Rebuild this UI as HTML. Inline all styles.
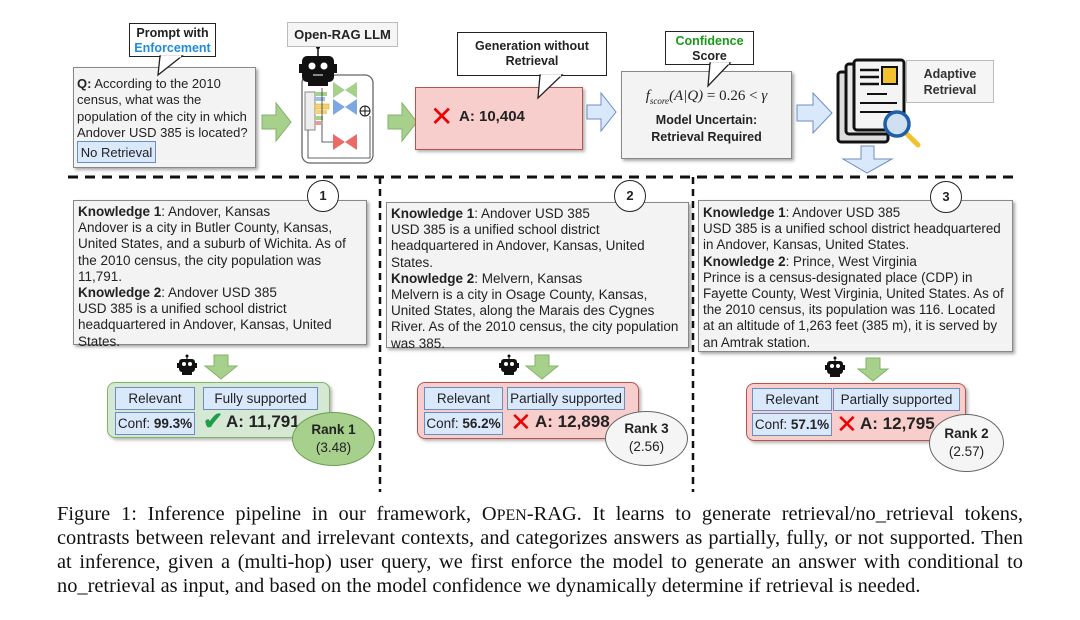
<!DOCTYPE html>
<html><head><meta charset="utf-8"><style>
*{margin:0;padding:0;box-sizing:border-box}
body{width:1080px;height:620px;background:#fff;position:relative;overflow:hidden;font-family:"Liberation Sans",sans-serif;color:#222}
.a{position:absolute}
.box{position:absolute;background:#f3f3f3;border:1.5px solid #888;box-shadow:2px 2px 3px rgba(0,0,0,.35)}
.call{position:absolute;background:#fff;border:1.5px solid #222;text-align:center;font-weight:bold;font-size:12.5px;line-height:15px;padding-top:2px}
.kt{font-size:13.5px;line-height:16.2px;white-space:nowrap;padding:3px 0 0 4px}
.tag{position:absolute;background:#dae8fc;border:1.3px solid #6c8ebf;font-size:13.5px;text-align:center;line-height:21px;height:23px;white-space:nowrap}
.res{position:absolute;border-radius:8px;box-shadow:2px 2px 3px rgba(0,0,0,.3)}
.ell{position:absolute;border-radius:50%;border:1.3px solid #666;text-align:center;font-size:13.5px;line-height:18px}
.circ{position:absolute;width:32px;height:32px;border-radius:50%;border:1.5px solid #222;background:#fff;text-align:center;line-height:29px;font-weight:bold;font-size:13px}
.cap{position:absolute;left:57px;width:966px;font-family:"Liberation Serif",serif;font-size:20.4px;text-align:justify;text-align-last:justify;white-space:nowrap;color:#111}
</style></head><body>

<svg class="a" style="left:0;top:0" width="1080" height="620">
<line x1="68" y1="177" x2="1020" y2="177" stroke="#111" stroke-width="3" stroke-dasharray="10,7"/>
<line x1="380" y1="177" x2="380" y2="492" stroke="#111" stroke-width="2.5" stroke-dasharray="7,5"/>
<line x1="693" y1="177" x2="693" y2="492" stroke="#111" stroke-width="2.5" stroke-dasharray="7,5"/>
<polygon points="262,115 276,115 276,103 291,122 276,141 276,129 262,129" fill="#a8d08d" stroke="#82b366"/>
<polygon points="388,115 402,115 402,103 417,122 402,141 402,129 388,129" fill="#a8d08d" stroke="#82b366"/>
<polygon points="587,105 601,105 601,93 616,112 601,131 601,119 587,119" fill="#dae8fc" stroke="#6c8ebf"/>
<polygon points="797,105 813,105 813,93 832,113 813,133 813,121 797,121" fill="#dae8fc" stroke="#6c8ebf"/>
<polygon points="861,146 874,146 874,159 892,159 867,173 843,159 861,159" fill="#dae8fc" stroke="#6c8ebf"/>
<polygon points="214,355 228,355 228,366 237,366 221,379 205,366 214,366" fill="#a8d08d" stroke="#82b366"/>
<polygon points="535,355 549,355 549,366 558,366 542,379 526,366 535,366" fill="#a8d08d" stroke="#82b366"/>
<polygon points="866,358 880,358 880,369 888,369 873,381 858,369 866,369" fill="#a8d08d" stroke="#82b366"/>
<rect x="302" y="75" width="71" height="88" rx="8" fill="#fff" stroke="#666" stroke-width="1.3"/>
<rect x="305" y="92" width="10" height="38" fill="#eee" stroke="#888"/>
<rect x="315" y="92" width="12" height="4" fill="#a8d08d"/><rect x="315" y="97" width="10" height="4" fill="#9cc0e8"/>
<rect x="315" y="104" width="14" height="5" fill="#f5d27a" stroke="#d6a000" stroke-width=".5"/><rect x="315" y="110" width="12" height="4" fill="#f5d27a"/>
<rect x="315" y="116" width="8" height="4" fill="#a8d08d"/><rect x="315" y="121" width="6" height="4" fill="#ea9999"/>
<polygon points="333,82 345,90 333,98" fill="#a8d08d"/><polygon points="357,82 345,90 357,98" fill="#a8d08d"/>
<polygon points="333,99 345,107 333,115" fill="#7ea6e0"/><polygon points="357,99 345,107 357,115" fill="#7ea6e0"/>
<polygon points="333,134 345,142 333,150" fill="#ea6b66"/><polygon points="357,134 345,142 357,150" fill="#ea6b66"/>
<circle cx="365" cy="111" r="5" fill="#fff" stroke="#111"/><line x1="360" y1="111" x2="370" y2="111" stroke="#111"/><line x1="365" y1="106" x2="365" y2="116" stroke="#111"/>
<polyline points="322,88 322,142 333,142" fill="none" stroke="#333" stroke-width=".8"/>
<polyline points="308,130 308,158 370,158 370,116" fill="none" stroke="#333" stroke-width=".8"/>
<g><line x1="318" y1="48" x2="318" y2="56" stroke="#111" stroke-width="1.5"/><circle cx="318" cy="47" r="2" fill="#111"/>
<rect x="302" y="56" width="32" height="26" rx="5" fill="#111"/><rect x="299" y="64" width="3" height="9" fill="#111"/><rect x="334" y="64" width="3" height="9" fill="#111"/>
<circle cx="312" cy="66" r="3.5" fill="#fff"/><circle cx="324" cy="66" r="3.5" fill="#fff"/><line x1="313" y1="75" x2="323" y2="75" stroke="#fff"/>
<rect x="308" y="82" width="20" height="4" fill="#111"/></g>
<rect x="838" y="72" width="50" height="70" rx="3" fill="#ddd" stroke="#111" stroke-width="3"/>
<rect x="846" y="64" width="50" height="70" rx="3" fill="#e8e8e8" stroke="#111" stroke-width="3"/>
<rect x="854" y="60" width="50" height="70" rx="3" fill="#f4f4f4" stroke="#111" stroke-width="3"/>
<line x1="860" y1="70" x2="879" y2="70" stroke="#111" stroke-width="2.5"/><line x1="860" y1="77" x2="879" y2="77" stroke="#111" stroke-width="2.5"/><line x1="860" y1="84" x2="879" y2="84" stroke="#111" stroke-width="2.5"/>
<rect x="882" y="67" width="15" height="17" fill="#f2c12e" stroke="#111" stroke-width="2"/>
<line x1="867" y1="94" x2="887" y2="94" stroke="#111" stroke-width="2"/><line x1="860" y1="103" x2="897" y2="103" stroke="#111" stroke-width="2"/><line x1="860" y1="112" x2="897" y2="112" stroke="#111" stroke-width="2"/>
<line x1="906" y1="133" x2="918" y2="145" stroke="#f2c12e" stroke-width="5" stroke-linecap="round"/>
<circle cx="897" cy="124" r="12" fill="#cfe0f3" stroke="#1f5fa8" stroke-width="3.5"/>
</svg>

<div class="box" style="left:73px;top:67px;width:183px;height:101px">
<div style="font-size:13px;line-height:16.3px;padding:8px 0 0 3px;white-space:nowrap"><b>Q:</b> According to the 2010<br>census, what was the<br>population of the city in which<br>Andover USD 385 is located?</div>
<div class="tag" style="left:3px;top:73px;width:79px;height:22px;font-size:13px">No Retrieval</div>
</div>
<div class="call" style="left:129px;top:23px;width:87px;height:34px">Prompt with<br><span style="color:#1f8dd6">Enforcement</span></div>
<svg class="a" style="left:150px;top:55px" width="40" height="22"><polygon points="10,1 32,1 8,20" fill="#fff" stroke="#222" stroke-width="1.3"/><line x1="11" y1="1.5" x2="31" y2="1.5" stroke="#fff" stroke-width="2"/></svg>

<div class="a" style="left:287px;top:22px;width:111px;height:25px;background:#f5f5f5;border:1px solid #bbb;font-weight:bold;font-size:13px;text-align:center;line-height:23px">Open-RAG LLM</div>

<div class="a" style="left:415px;top:87px;width:168px;height:63px;background:#f8cecc;border:1.3px solid #b85450;box-shadow:2px 2px 3px rgba(0,0,0,.3)">
<div style="position:absolute;left:14px;top:14px;font-size:28px;color:#e00;line-height:30px">✕</div>
<div style="position:absolute;left:43px;top:20px;font-weight:bold;font-size:15px">A: 10,404</div></div>
<div class="call" style="left:457px;top:32px;width:150px;height:44px;padding-top:6px">Generation without<br>Retrieval</div>
<svg class="a" style="left:530px;top:74px" width="40" height="26"><polygon points="10,1 32,1 8,24" fill="#fff" stroke="#222" stroke-width="1.3"/><line x1="11" y1="1.5" x2="31" y2="1.5" stroke="#fff" stroke-width="2"/></svg>

<div class="box" style="left:621px;top:71px;width:171px;height:88px;text-align:center">
<div style="font-family:'Liberation Serif',serif;font-style:italic;font-size:15px;margin-top:16px;white-space:nowrap">f<sub style="font-size:9px">score</sub>(A|Q) <span style="font-style:normal">= 0.26 &lt;</span> γ</div>
<div style="font-weight:bold;font-size:12.5px;line-height:17px;margin-top:6px">Model Uncertain:<br>Retrieval Required</div></div>
<div class="call" style="left:665px;top:31px;width:89px;height:34px"><span style="color:#1a9a1a">Confidence</span><br>Score</div>
<svg class="a" style="left:700px;top:62px" width="40" height="26"><polygon points="10,1 30,1 8,24" fill="#fff" stroke="#222" stroke-width="1.3"/><line x1="11" y1="1.5" x2="29" y2="1.5" stroke="#fff" stroke-width="2"/></svg>

<div class="a" style="left:906px;top:60px;width:88px;height:43px;background:#f5f5f5;border:1px solid #bbb;font-weight:bold;font-size:12.5px;text-align:center;line-height:16px;padding-top:5px;color:#333">Adaptive<br>Retrieval</div>

<div class="box" style="left:73px;top:200px;width:294px;height:145px"><div class="kt"><b>Knowledge 1</b>: Andover, Kansas<br>Andover is a city in Butler County, Kansas,<br>United States, and a suburb of Wichita. As of<br>the 2010 census, the city population was<br>11,791.<br><b>Knowledge 2</b>: Andover USD 385<br>USD 385 is a unified school district<br>headquartered in Andover, Kansas, United<br>States.</div></div>
<div class="circ" style="left:307px;top:180px">1</div>

<div class="box" style="left:386px;top:202px;width:303px;height:146px"><div class="kt"><b>Knowledge 1</b>: Andover USD 385<br>USD 385 is a unified school district<br>headquartered in Andover, Kansas, United<br>States.<br><b>Knowledge 2</b>: Melvern, Kansas<br>Melvern is a city in Osage County, Kansas,<br>United States, along the Marais des Cygnes<br>River. As of the 2010 census, the city population<br>was 385.</div></div>
<div class="circ" style="left:614px;top:180px">2</div>

<div class="box" style="left:698px;top:200px;width:315px;height:152px"><div class="kt" style="padding-top:4px;font-size:13.4px"><b>Knowledge 1</b>: Andover USD 385<br>USD 385 is a unified school district headquartered<br>in Andover, Kansas, United States.<br><b>Knowledge 2</b>: Prince, West Virginia<br>Prince is a census-designated place (CDP) in<br>Fayette County, West Virginia, United States. As of<br>the 2010 census, its population was 116. Located<br>at an altitude of 1,263 feet (385 m), it is served by<br>an Amtrak station.</div></div>
<div class="circ" style="left:930px;top:181px">3</div>

<svg class="a" style="left:0;top:0" width="1080" height="620">
<g transform="translate(176,355)"><circle cx="11" cy="1" r="1.5" fill="#111"/><line x1="11" y1="1" x2="11" y2="4" stroke="#111"/><rect x="3" y="4" width="16" height="13" rx="3" fill="#111"/><rect x="1" y="8" width="2" height="5" fill="#111"/><rect x="19" y="8" width="2" height="5" fill="#111"/><circle cx="8" cy="9" r="2" fill="#fff"/><circle cx="14" cy="9" r="2" fill="#fff"/><rect x="6" y="17" width="10" height="3" fill="#111"/></g>
<g transform="translate(498,355)"><circle cx="11" cy="1" r="1.5" fill="#111"/><line x1="11" y1="1" x2="11" y2="4" stroke="#111"/><rect x="3" y="4" width="16" height="13" rx="3" fill="#111"/><rect x="1" y="8" width="2" height="5" fill="#111"/><rect x="19" y="8" width="2" height="5" fill="#111"/><circle cx="8" cy="9" r="2" fill="#fff"/><circle cx="14" cy="9" r="2" fill="#fff"/><rect x="6" y="17" width="10" height="3" fill="#111"/></g>
<g transform="translate(824,357)"><circle cx="11" cy="1" r="1.5" fill="#111"/><line x1="11" y1="1" x2="11" y2="4" stroke="#111"/><rect x="3" y="4" width="16" height="13" rx="3" fill="#111"/><rect x="1" y="8" width="2" height="5" fill="#111"/><rect x="19" y="8" width="2" height="5" fill="#111"/><circle cx="8" cy="9" r="2" fill="#fff"/><circle cx="14" cy="9" r="2" fill="#fff"/><rect x="6" y="17" width="10" height="3" fill="#111"/></g>
</svg>

<div class="res" style="left:107px;top:382px;width:223px;height:56px;background:#d5e8d4;border:1.3px solid #82b366"></div>
<div class="tag" style="left:115px;top:387px;width:80px">Relevant</div>
<div class="tag" style="left:203px;top:387px;width:115px">Fully supported</div>
<div class="tag" style="left:115px;top:412px;width:80px">Conf: <b>99.3%</b></div>
<div class="a" style="left:203px;top:409px;font-size:24px;color:#1e9e4a;font-weight:bold;line-height:26px">✔</div>
<div class="a" style="left:226px;top:412px;font-weight:bold;font-size:17px">A: 11,791</div>
<div class="ell" style="left:292px;top:412px;width:83px;height:54px;background:#a8d08d;border-color:#6a9f50;padding-top:8px"><b>Rank 1</b><br>(3.48)</div>

<div class="res" style="left:417px;top:382px;width:222px;height:57px;background:#f8cecc;border:1.3px solid #b85450"></div>
<div class="tag" style="left:424px;top:387px;width:79px">Relevant</div>
<div class="tag" style="left:507px;top:387px;width:118px">Partially supported</div>
<div class="tag" style="left:424px;top:412px;width:79px">Conf: <b>56.2%</b></div>
<div class="a" style="left:510px;top:408px;font-size:26px;color:#e00;line-height:28px">✕</div>
<div class="a" style="left:535px;top:412px;font-weight:bold;font-size:17px">A: 12,898</div>
<div class="ell" style="left:605px;top:411px;width:83px;height:55px;background:#f5f5f5;padding-top:8px"><b>Rank 3</b><br>(2.56)</div>

<div class="res" style="left:746px;top:383px;width:220px;height:58px;background:#f8cecc;border:1.3px solid #b85450"></div>
<div class="tag" style="left:752px;top:388px;width:80px">Relevant</div>
<div class="tag" style="left:833px;top:388px;width:127px">Partially supported</div>
<div class="tag" style="left:752px;top:413px;width:80px">Conf: <b>57.1%</b></div>
<div class="a" style="left:836px;top:410px;font-size:26px;color:#e00;line-height:28px">✕</div>
<div class="a" style="left:860px;top:414px;font-weight:bold;font-size:17px">A: 12,795</div>
<div class="ell" style="left:929px;top:414px;width:75px;height:58px;background:#f5f5f5;padding-top:10px"><b>Rank 2</b><br>(2.57)</div>

<div class="cap" style="top:503px">Figure 1: Inference pipeline in our framework, O<span style="font-size:16px">PEN</span>-RAG. It learns to generate retrieval/no_retrieval tokens,</div>
<div class="cap" style="top:527px">contrasts between relevant and irrelevant contexts, and categorizes answers as partially, fully, or not supported. Then</div>
<div class="cap" style="top:551px">at inference, given a (multi-hop) user query, we first enforce the model to generate an answer with conditional to</div>
<div class="cap" style="top:575px;text-align-last:left">no_retrieval as input, and based on the model confidence we dynamically determine if retrieval is needed.</div>
</body></html>
